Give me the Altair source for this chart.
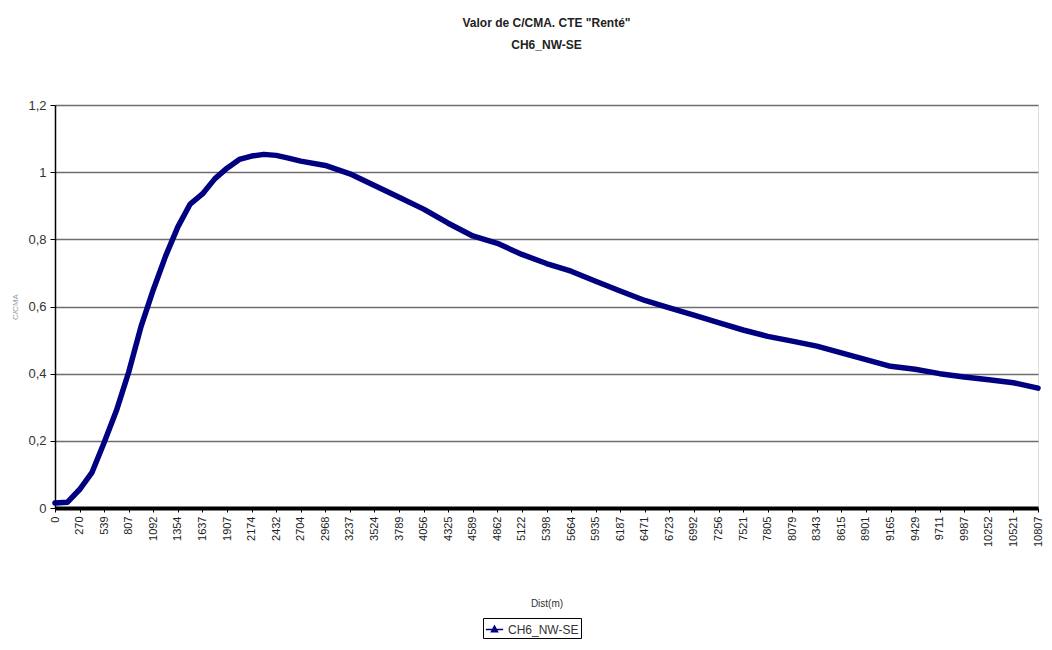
import altair as alt
import pandas as pd

# Category labels of the x axis (Dist (m)), one every tick
dist_labels = ["0", "270", "539", "807", "1092", "1354", "1637", "1907", "2174", "2432",
               "2704", "2968", "3237", "3524", "3789", "4056", "4325", "4589", "4862", "5122",
               "5398", "5664", "5935", "6187", "6471", "6723", "6992", "7256", "7521", "7805",
               "8079", "8343", "8615", "8901", "9165", "9429", "9711", "9987", "10252", "10521",
               "10807"]

# Position of each sample along the category axis (tick index) and its value
pos = [0, 0.5, 1, 1.5, 2, 2.5, 3, 3.5, 4, 4.5, 5, 5.5, 6, 6.5, 7, 7.5, 8, 8.5, 9, 9.5,
       10, 11, 12, 13, 14, 15, 16, 17, 18, 19, 20, 21, 22, 23, 24, 25, 26, 27, 28, 29,
       30, 31, 32, 33, 34, 35, 36, 37, 38, 39, 40]
vals = [0.015, 0.017, 0.055, 0.105, 0.195, 0.29, 0.405, 0.54, 0.65, 0.75, 0.837, 0.905, 0.935, 0.98, 1.012, 1.038, 1.048, 1.053, 1.05, 1.042,
        1.033, 1.02, 0.995, 0.96, 0.925, 0.89, 0.848, 0.81, 0.788, 0.755, 0.728, 0.705, 0.675, 0.646, 0.618, 0.596, 0.574, 0.552, 0.53, 0.511,
        0.497, 0.482, 0.462, 0.442, 0.422, 0.413, 0.40, 0.39, 0.382, 0.373, 0.357]

series = "CH6_NW-SE"
df = pd.DataFrame({"pos": pos, "val": vals, "serie": series})

label_arr = "[" + ",".join("'%s'" % s for s in dist_labels) + "]"

FONT = "Liberation Sans"

line = alt.Chart(df).mark_line(strokeWidth=5.5, strokeJoin="round", strokeCap="round").encode(
    x=alt.X("pos:Q",
            scale=alt.Scale(domain=[0, len(dist_labels) - 1], nice=False, zero=False),
            axis=alt.Axis(values=list(range(len(dist_labels))),
                          labelExpr=label_arr + "[datum.value]",
                          labelAngle=-90, labelFontSize=11, labelColor="#222",
                          labelFont=FONT, labelPadding=4,
                          domainColor="black", domainWidth=4,
                          tickColor="black", tickSize=4, tickWidth=1,
                          grid=False, title="Dist(m)", titleFont=FONT,
                          titleFontSize=10, titleFontWeight="normal", titleColor="#333",
                          titleY=95, titleBaseline="middle")),
    y=alt.Y("val:Q",
            scale=alt.Scale(domain=[0, 1.2], nice=False),
            axis=alt.Axis(values=[0, 0.2, 0.4, 0.6, 0.8, 1.0, 1.2],
                          labelExpr="replace(format(datum.value, '.1~f'), '.', ',')",
                          labelFontSize=13, labelColor="#333", labelFont=FONT,
                          labelPadding=4,
                          domainColor="black", domainWidth=1.5,
                          tickColor="black", tickSize=5,
                          gridColor="#6e6e6e", gridWidth=1.5,
                          title="C/CMA", titleFontSize=8, titleColor="#999",
                          titleFontWeight="normal", titleX=-36)),
    color=alt.Color("serie:N", scale=alt.Scale(range=["#000080"]),
                    legend=alt.Legend(title=None, orient="none", legendX=428, legendY=513,
                                      strokeColor="black", fillColor="white", padding=2,
                                      symbolType="M-1,0L1,0M0,-0.4L0.35,0.25L-0.35,0.25Z",
                                      symbolSize=300, symbolStrokeWidth=1.5,
                                      symbolStrokeColor="#000080", symbolFillColor="#000080",
                                      labelFont=FONT, labelFontSize=12, labelColor="#333")),
)

chart = line.properties(
    width=983, height=403,
    autosize=alt.AutoSizeParams(type="none"),
    padding={"left": 47, "top": 97, "right": 6, "bottom": 134},
    title=alt.TitleParams(text=['Valor de C/CMA. CTE "Renté"', "CH6_NW-SE"],
                          font=FONT, fontSize=12, fontWeight="bold", color="#222",
                          anchor="middle", offset=47, lineHeight=22),
).configure_view(stroke="#999", strokeWidth=1.5).configure(background="white")

chart.save("out.html", embed_options={"renderer": "svg", "actions": False})
